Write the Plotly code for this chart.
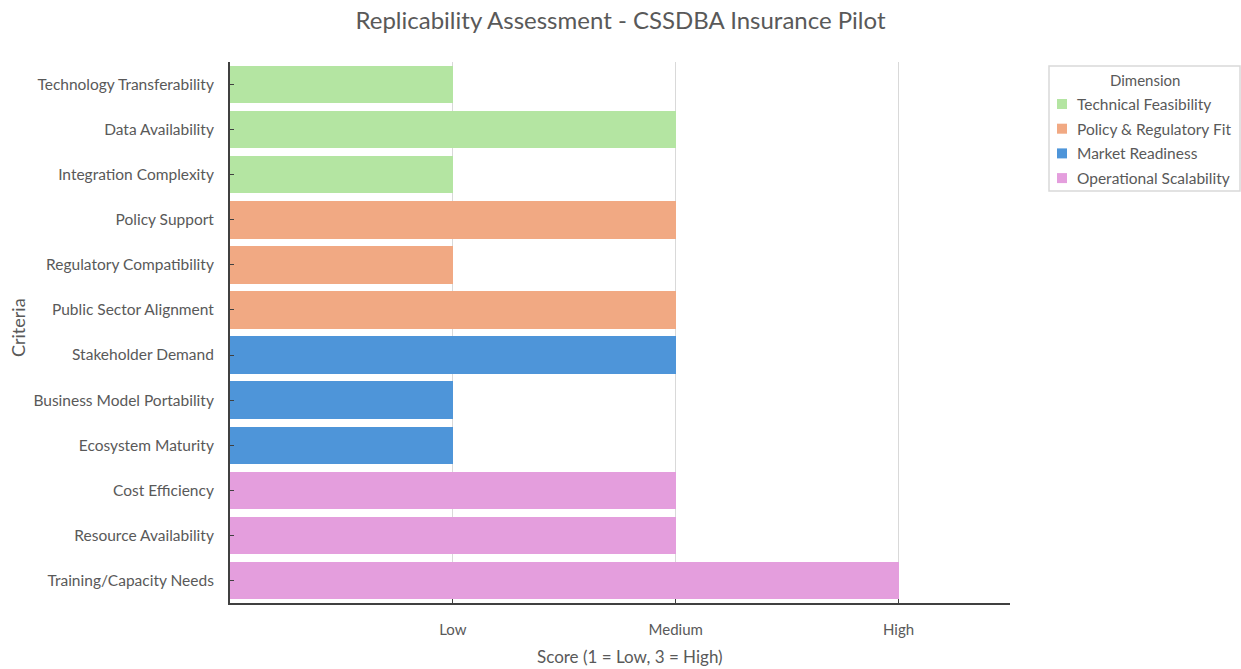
import plotly.graph_objects as go

# Criteria grouped by dimension, with scores on a 1-3 scale
dimensions = ["Technical Feasibility", "Policy & Regulatory Fit",
              "Market Readiness", "Operational Scalability"]
criteria = {
    "Technical Feasibility": ["Technology Transferability", "Data Availability",
                              "Integration Complexity"],
    "Policy & Regulatory Fit": ["Policy Support", "Regulatory Compatibility",
                                "Public Sector Alignment"],
    "Market Readiness": ["Stakeholder Demand", "Business Model Portability",
                         "Ecosystem Maturity"],
    "Operational Scalability": ["Cost Efficiency", "Resource Availability",
                                "Training/Capacity Needs"],
}
scores = {
    "Technical Feasibility": [1, 2, 1],
    "Policy & Regulatory Fit": [2, 1, 2],
    "Market Readiness": [2, 1, 1],
    "Operational Scalability": [2, 2, 3],
}
colors = {
    "Technical Feasibility": "#B4E5A2",
    "Policy & Regulatory Fit": "#F1A983",
    "Market Readiness": "#4E95D9",
    "Operational Scalability": "#E49EDD",
}
tick_vals = [1, 2, 3]
tick_text = ["Low", "Medium", "High"]

order = [c for d in dimensions for c in criteria[d]]
font_family = "Lato, 'Open Sans', sans-serif"
grey = "#595959"

W, H = 1241, 669
L, R, T, B = 230, 231, 62, 66
pw, ph = W - L - R, H - T - B


def px(x):
    return (x - L) / pw


def py(y):
    return (H - B - y) / ph


fig = go.Figure()
for d in dimensions:
    fig.add_trace(go.Bar(
        x=scores[d], y=criteria[d], orientation="h", name=d,
        marker=dict(color=colors[d], line=dict(width=0)),
        showlegend=False,
    ))

# Legend box drawn as shapes and text
shapes = [dict(type="rect", xref="paper", yref="paper",
               x0=px(1049), x1=px(1240), y0=py(191), y1=py(66),
               line=dict(color="#D9D9D9", width=1.5), fillcolor="white", layer="above")]
annotations = [dict(text="Dimension", xref="paper", yref="paper",
                    x=px(1145), y=py(80), showarrow=False,
                    xanchor="center", yanchor="middle",
                    font=dict(size=15, color=grey))]
for i, d in enumerate(dimensions):
    yc = 104 + i * 24.7
    shapes.append(dict(type="rect", xref="paper", yref="paper",
                       x0=px(1057), x1=px(1067), y0=py(yc + 5), y1=py(yc - 5),
                       line=dict(width=0), fillcolor=colors[d], layer="above"))
    annotations.append(dict(text=d, xref="paper", yref="paper",
                            x=px(1075), y=py(yc), showarrow=False,
                            xanchor="left", yanchor="middle",
                            font=dict(size=15.5, color=grey)))

# Axis titles
annotations.append(dict(text="Score (1 = Low, 3 = High)", xref="paper", yref="paper",
                        x=px(630), y=py(656), showarrow=False,
                        xanchor="center", yanchor="middle",
                        font=dict(size=17, color=grey)))
annotations.append(dict(text="Criteria", xref="paper", yref="paper",
                        x=px(18), y=py(328), showarrow=False, textangle=-90,
                        xanchor="center", yanchor="middle",
                        font=dict(size=18, color=grey)))

fig.update_layout(
    width=W, height=H,
    barmode="stack", bargap=0.17,
    paper_bgcolor="white", plot_bgcolor="white",
    margin=dict(l=L, r=R, t=T, b=B, autoexpand=False),
    font=dict(family=font_family, size=15, color=grey),
    title=dict(text="Replicability Assessment - CSSDBA Insurance Pilot",
               x=0.5, xanchor="center", y=0.969, yanchor="middle",
               font=dict(size=24, color=grey)),
    showlegend=False,
    shapes=shapes,
    annotations=annotations,
    xaxis=dict(
        range=[0, 3.5], tickvals=tick_vals, ticktext=tick_text,
        showgrid=True, gridcolor="#D9D9D9", gridwidth=1,
        showline=True, linecolor="#404040", linewidth=2,
        ticks="inside", ticklen=4, tickcolor="#404040",
        zeroline=False, ticklabelstandoff=12,
        tickfont=dict(size=15),
    ),
    yaxis=dict(
        categoryorder="array", categoryarray=order, autorange="reversed",
        showline=True, linecolor="#404040", linewidth=2,
        ticks="inside", ticklen=4, tickcolor="#404040",
        showgrid=False, ticklabelstandoff=11,
        tickfont=dict(size=15.5),
    ),
)

fig.write_html("out.html")
